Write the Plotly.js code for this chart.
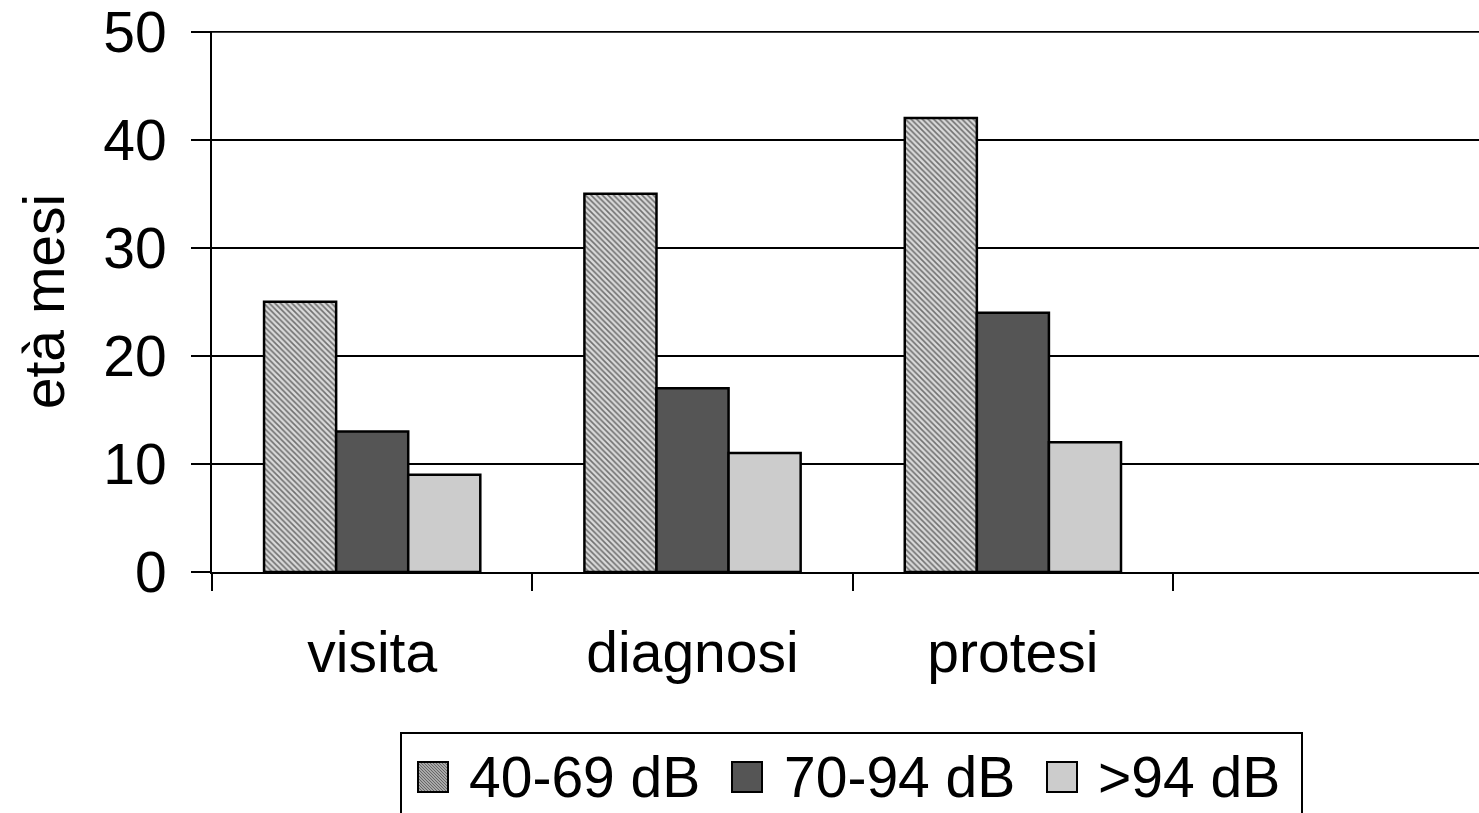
<!DOCTYPE html>
<html>
<head>
<meta charset="utf-8">
<script src="https://cdn.plot.ly/plotly-3.0.1.min.js"></script>
<style>html,body{margin:0;padding:0;background:#fff;}#chart{width:1479px;height:813px;}</style>
</head>
<body>
<div id="chart"></div>
<script>
const categories = ["visita", "diagnosi", "protesi"];
const seriesNames = ["40-69 dB", "70-94 dB", ">94 dB"];
const s1 = [25, 35, 42];
const s2 = [13, 17, 24];
const s3 = [9, 11, 12];
const yTicks = [0, 10, 20, 30, 40, 50];
const yMax = 50;

const W = 1479, H = 813, L = 212, R = 0, T = 31, B = 241;
const pw = W - L - R, ph = H - T - B;
const px = x => (x - L) / pw;
const py = y => (H - B - y) / ph;
const FONT = "Liberation Sans, Arial, sans-serif";
const FS = 57;

const colors = ["#a8a8a8", "#555555", "#cccccc"];
const lineStyle = {color: "#000", width: 2.5};

const traces = [
  {type: "bar", name: seriesNames[0], x: categories, y: s1,
   marker: {color: "#b4b4b4", line: lineStyle,
            pattern: {shape: "\\", size: 4, solidity: 0.4, fgcolor: "#707070", bgcolor: "#dadada", fillmode: "replace"}}},
  {type: "bar", name: seriesNames[1], x: categories, y: s2, marker: {color: colors[1], line: lineStyle}},
  {type: "bar", name: seriesNames[2], x: categories, y: s3, marker: {color: colors[2], line: lineStyle}}
];

const shapes = [];
const annotations = [];
// top gridline (Plotly drops gridlines at the plot edge)
shapes.push({type: "line", xref: "paper", yref: "y", x0: 0, x1: 1, y0: yMax, y1: yMax,
             line: {color: "#000", width: 2}, layer: "below"});
// custom legend
shapes.push({type: "rect", xref: "paper", yref: "paper", x0: px(401), x1: px(1302), y0: py(733), y1: py(830),
             line: {color: "#000", width: 2}, fillcolor: "rgba(0,0,0,0)"});
const symX = [418, 732, 1047];
const txtX = [467, 782, 1096];
const symTop = 762, symSize = 30;
for (let i = 0; i < 3; i++) {
  shapes.push({type: "rect", xref: "paper", yref: "paper",
    x0: px(symX[i]), x1: px(symX[i] + symSize), y0: py(symTop + symSize), y1: py(symTop),
    line: {color: "#000", width: 2}, fillcolor: colors[i]});
  annotations.push({xref: "paper", yref: "paper", x: px(txtX[i]), y: py(symTop + symSize / 2),
    xanchor: "left", yanchor: "middle", showarrow: false, text: seriesNames[i],
    font: {family: FONT, size: FS, color: "#000"}});
}
// hatching inside first legend symbol
(function () {
  let d = "";
  const x0 = symX[0] + 1, y0 = symTop + 1, s = symSize - 2;
  for (let k = -s; k < s; k += 3) {
    let ax = x0 + Math.max(0, k), ay = y0 + Math.max(0, -k);
    let len = s - Math.abs(k);
    let bx = ax + len, by = ay + len;
    d += "M" + px(ax) + "," + py(ay) + "L" + px(bx) + "," + py(by);
  }
  shapes.push({type: "path", xref: "paper", yref: "paper", path: d, line: {color: "#666", width: 1}});
  shapes.push({type: "rect", xref: "paper", yref: "paper",
    x0: px(symX[0]), x1: px(symX[0] + symSize), y0: py(symTop + symSize), y1: py(symTop),
    line: {color: "#000", width: 2}, fillcolor: "rgba(0,0,0,0)"});
})();

const layout = {
  width: W, height: H,
  margin: {l: L, r: R, t: T, b: B, pad: 0},
  paper_bgcolor: "#fff", plot_bgcolor: "#fff",
  barmode: "group", bargap: 0.325, bargroupgap: 0,
  showlegend: false,
  font: {family: FONT, size: FS, color: "#000"},
  xaxis: {
    type: "category", range: [-0.5, 3.455], tickson: "boundaries",
    ticks: "outside", ticklen: 17, tickwidth: 2, tickcolor: "#000",
    showline: true, linecolor: "#000", linewidth: 2,
    showgrid: false, zeroline: false, fixedrange: true,
    tickfont: {family: FONT, size: FS, color: "#000"},
    ticklabelstandoff: 30
  },
  yaxis: {
    range: [0, 50.06], tickvals: yTicks, ticktext: yTicks.map(String),
    ticks: "outside", ticklen: 19, tickwidth: 2, tickcolor: "#000",
    showline: true, linecolor: "#000", linewidth: 2,
    showgrid: true, gridcolor: "#000", gridwidth: 2, zeroline: false,
    tickfont: {family: FONT, size: FS, color: "#000"},
    ticklabelstandoff: 13, ticklabeloverflow: "allow",
    title: {text: "età mesi", font: {family: FONT, size: FS, color: "#000"}, standoff: 20}
  },
  shapes: shapes,
  annotations: annotations
};

Plotly.newPlot("chart", traces, layout, {displayModeBar: false, staticPlot: true});
</script>
</body>
</html>
